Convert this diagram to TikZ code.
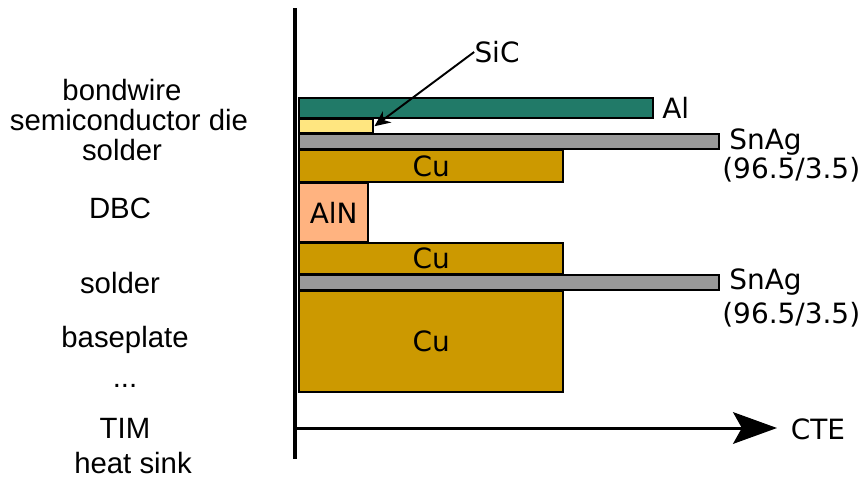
\documentclass[tikz,border=0pt]{standalone}
\usepackage{fontspec}
\setmainfont{Liberation Sans}
\newfontfamily\dejavu{DejaVu Sans}
\usetikzlibrary{arrows.meta,positioning}
\definecolor{algreen}{RGB}{33,122,104}
\definecolor{sicyellow}{RGB}{255,230,128}
\definecolor{soldergray}{RGB}{153,153,153}
\definecolor{cubrown}{RGB}{204,153,0}
\definecolor{alnorange}{RGB}{255,179,128}

\begin{document}
\begin{tikzpicture}[x=0.02cm, y=-0.02cm,
  layer/.style={draw=black, line width=1.4pt, anchor=north west, inner sep=0pt,
    font=\dejavu\fontsize{15.9}{18}\selectfont},
  stacklabel/.style={font=\fontsize{16.7}{19}\selectfont, inner sep=0pt},
  matlabel/.style={font=\dejavu\fontsize{15.9}{17}\selectfont, align=left, inner sep=0pt}]
\useasboundingbox (0,0) rectangle (867,478);
% Axes
\draw[line width=2pt] (295,8) -- (295,459);
\coordinate (cte0) at (295,428);
\coordinate (ctetip) at (777,428);
\draw[line width=1.7pt, -{Stealth[length=25pt,width=18pt,inset=5pt]}] (cte0) -- (ctetip);
\node[matlabel] (cte) at (818,429) {CTE};
% Layer stack
\node[layer, fill=algreen, minimum width=7.08cm, minimum height=0.40cm] (al) at (298,97) {};
\node[layer, fill=sicyellow, minimum width=1.48cm, minimum height=0.28cm] (sic) at (298,118) {};
\node[layer, fill=soldergray, minimum width=8.40cm, minimum height=0.30cm] (snag1) at (298,133) {};
\node[layer, fill=cubrown, minimum width=5.28cm, minimum height=0.64cm] (cu1) at (298,149) {Cu};
\node[layer, fill=alnorange, minimum width=1.38cm, minimum height=1.18cm] (aln) at (298,182) {AlN};
\node[layer, fill=cubrown, minimum width=5.28cm, minimum height=0.62cm] (cu2) at (298,242) {Cu};
\node[layer, fill=soldergray, minimum width=8.40cm, minimum height=0.30cm] (snag2) at (298,274) {};
\node[layer, fill=cubrown, minimum width=5.28cm, minimum height=2.02cm] (cu3) at (298,290) {Cu};
% Material labels
\node[matlabel] (siclabel) at (497,52) {SiC};
\draw[line width=1.1pt, -{Stealth[length=9pt,width=8pt]}] (siclabel.west) -- (sic.east);
\node[matlabel, anchor=west] (allabel) at (662,108) {Al};
\node[matlabel, anchor=north west] (snaglabel1) at (722,128) {\hspace{4pt}SnAg\\(96.5/3.5)};
\node[matlabel, anchor=north west] (snaglabel2) at (722,268) {\hspace{4pt}SnAg\\[2.3pt](96.5/3.5)};
% Stack names
\node[stacklabel] (bondwire) at (122,90) {bondwire};
\node[stacklabel] (die) at (129,120) {semiconductor die};
\node[stacklabel] (solder1) at (122,150) {solder};
\node[stacklabel] (dbc) at (120,208) {DBC};
\node[stacklabel] (solder2) at (120,283) {solder};
\node[stacklabel] (baseplate) at (125,340) {baseplate};
\node[stacklabel] (dots) at (125,386) {...};
\node[stacklabel] (tim) at (125,428) {TIM};
\node[stacklabel] (heatsink) at (133,463) {heat sink};
\end{tikzpicture}
\end{document}
